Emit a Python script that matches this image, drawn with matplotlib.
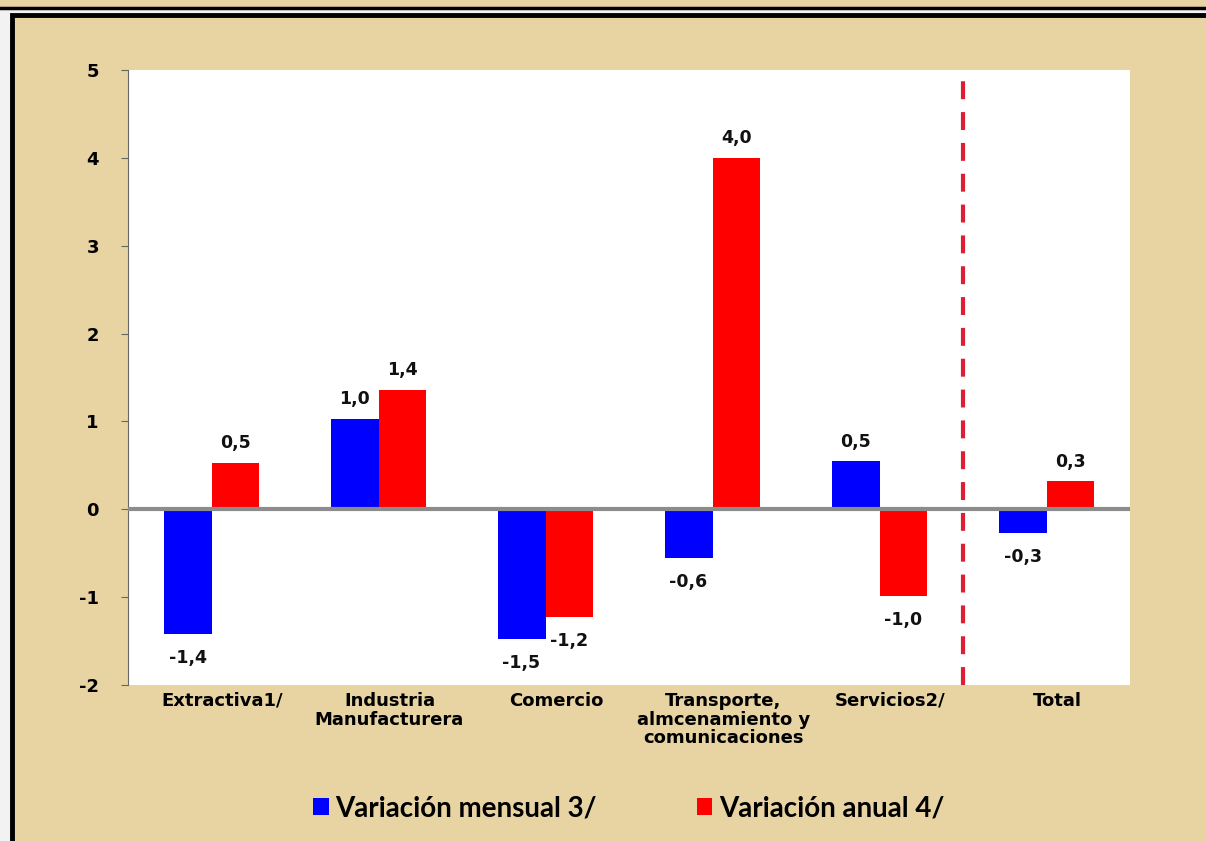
import numpy as np
import matplotlib.pyplot as plt
import matplotlib.transforms as mtransforms
from matplotlib.patches import Rectangle

# --------------------------------------------------------------------------------------------
# DATA
categories = ['Extractiva1/', 'Industria\nManufacturera', 'Comercio',
              'Transporte,\nalmcenamiento y\ncomunicaciones', 'Servicios2/', 'Total']
mensual = [-1.42, 1.03, -1.48, -0.56, 0.55, -0.27]
anual = [0.53, 1.36, -1.23, 4.0, -0.99, 0.32]
mensualLabels = ['-1,4', '1,0', '-1,5', '-0,6', '0,5', '-0,3']
anualLabels = ['0,5', '1,4', '-1,2', '4,0', '-1,0', '0,3']
yTicks = [-2, -1, 0, 1, 2, 3, 4, 5]

# --------------------------------------------------------------------------------------------
# FIGURE
paper = '#E8D3A2'
fig = plt.figure(figsize=(12.06, 8.41), dpi=100)
fig.patch.set_facecolor('#F2F2F2')

# background frames (top strip + main box), in pixel coords
bg = fig.add_axes([0, 0, 1, 1], zorder=0)
bg.set_xlim(0, 1206)
bg.set_ylim(841, 0)
bg.axis('off')
bg.add_patch(Rectangle((-5, -20), 1220, 28, facecolor=paper, edgecolor='black', linewidth=2.5))
bg.add_patch(Rectangle((12, 15), 1210, 840, facecolor=paper, edgecolor='black', linewidth=3.5))

ax = fig.add_axes([128/1206, 1 - 685/841, 1002/1206, 615/841], zorder=1)
ax.set_facecolor('white')

x = np.arange(len(categories))
w = 0.287
ax.bar(x - w/2, mensual, w, color='#0000FF', zorder=2, label='Variación mensual 3/')
ax.bar(x + w/2, anual, w, color='#FF0000', zorder=2, label='Variación anual 4/')
ax.axhline(0, color='#8C8C8C', linewidth=3, zorder=3)
ax.axvline(4.5, ymax=0.995, color='#DC1F35', linewidth=3, dashes=(4.3, 3.1), zorder=3)

# data labels
for i in range(len(categories)):
    for val, lab, dx in ((mensual[i], mensualLabels[i], -w/2), (anual[i], anualLabels[i], w/2)):
        off = 14 if val > 0 else -17
        ax.annotate(lab, (x[i] + dx, val), xytext=(0, off), textcoords='offset points',
                    ha='center', va='center', fontsize=12.5, fontweight='bold',
                    family='DejaVu Sans', color='#111111', zorder=4)

ax.set_xlim(-0.5, len(categories) - 0.5)
ax.set_ylim(-2, 5)
ax.set_yticks(yTicks)
ax.set_yticklabels([str(t) for t in yTicks], fontsize=13, fontweight='bold')
ax.set_xticks(x)
ax.set_xticklabels(categories, fontsize=13, fontweight='bold', linespacing=1.05)
ax.tick_params(axis='x', length=0, pad=5)
ax.tick_params(axis='y', length=5, color='#666666', pad=16)
for s in ['top', 'right', 'bottom']:
    ax.spines[s].set_visible(False)
ax.spines['left'].set_color('#666666')

# category labels sit a little right of the bar groups, as in the original
shift = mtransforms.ScaledTranslation(11/100, 0, fig.dpi_scale_trans)
for lbl in ax.get_xticklabels():
    lbl.set_transform(lbl.get_transform() + shift)

leg = fig.legend(loc='center', bbox_to_anchor=(629/1206, 1 - 808/841), ncol=2, frameon=False,
                 prop={'family': 'Lato', 'weight': 'bold', 'size': 20},
                 handlelength=0.55, handleheight=0.55, handletextpad=0.25, columnspacing=3.6)
leg.set_zorder(5)

fig.savefig('out.png', dpi=100, facecolor=fig.get_facecolor())
